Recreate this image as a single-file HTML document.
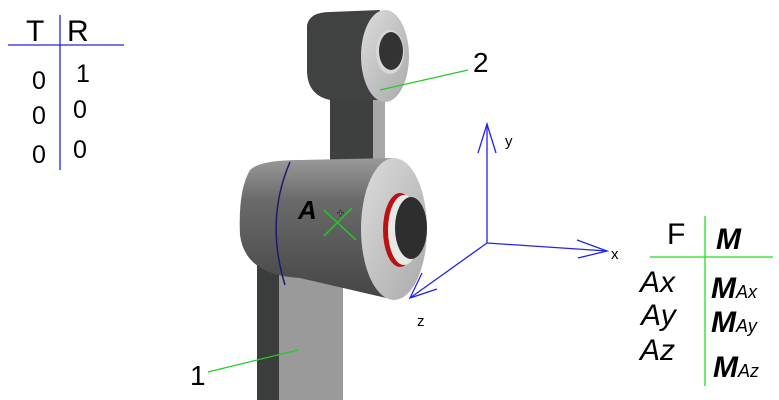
<!DOCTYPE html><html><head><style>body{margin:0;background:#fff}svg{display:block}text{font-family:"Liberation Sans",sans-serif}</style></head><body>
<svg width="779" height="400" viewBox="0 0 779 400" xmlns="http://www.w3.org/2000/svg">
<defs>
<linearGradient id="cyl" x1="0" y1="0" x2="0" y2="1"><stop offset="0" stop-color="#9a9a9a"/><stop offset="0.3" stop-color="#6a6a6a"/><stop offset="1" stop-color="#444"/></linearGradient>
<linearGradient id="face" x1="0" y1="0" x2="1" y2="1"><stop offset="0" stop-color="#dcdcdc"/><stop offset="1" stop-color="#aaa"/></linearGradient>
</defs>
<rect x="257" y="255" width="22" height="145" fill="#3b3d3c"/>
<rect x="279" y="255" width="64" height="145" fill="#9a9a9a"/>
<rect x="330" y="80" width="45" height="85" fill="#3e403f"/>
<rect x="373" y="95" width="12" height="70" fill="#a8a8a8"/>
<path d="M307 25 Q310 12 330 12 L380 10 L380 100 L330 100 Q307 95 307 70 Z" fill="#404241"/>
<ellipse cx="385" cy="56" rx="24" ry="46" fill="url(#face)"/>
<ellipse cx="390" cy="52" rx="14" ry="22" fill="#d8d8d8"/>
<ellipse cx="391" cy="51" rx="12" ry="19" fill="#333"/>
<path d="M250 170 Q260 160 300 160 L395 158 L395 300 L300 278 Q245 275 240 235 Q238 190 250 170 Z" fill="url(#cyl)"/>
<path d="M290 162 Q265 220 285 285" stroke="#1a1a70" stroke-width="1.5" fill="none"/>
<ellipse cx="394" cy="229" rx="33" ry="71" fill="url(#face)"/>
<ellipse cx="400" cy="230" rx="17" ry="37" fill="#bb1111"/>
<ellipse cx="404" cy="230" rx="16" ry="35" fill="#e8e8e8"/>
<ellipse cx="411" cy="228" rx="16" ry="31" fill="#2e2e2e"/>
<line x1="324" y1="210" x2="356" y2="240" stroke="#22cc22" stroke-width="1.5"/>
<line x1="352" y1="208" x2="324" y2="236" stroke="#22cc22" stroke-width="1.5"/>
<text x="337" y="217" font-size="12" fill="#fff" stroke="#000" stroke-width="0.5">+</text>
<line x1="380" y1="90" x2="468" y2="70" stroke="#22cc22" stroke-width="1.2"/>
<line x1="208" y1="372" x2="298" y2="350" stroke="#22cc22" stroke-width="1.2"/>
<text x="298" y="219" font-size="26" font-style="italic" font-weight="bold">A</text>
<text x="473" y="72" font-size="28">2</text>
<text x="190" y="385" font-size="28">1</text>
<g stroke="#2222ee" stroke-width="1.3" fill="none">
<line x1="487" y1="243" x2="487" y2="124"/><polyline points="478,153 487,124 496,153"/>
<line x1="487" y1="243" x2="607" y2="251"/><polyline points="577,240 607,251 578,258"/>
<line x1="487" y1="243" x2="410" y2="298"/><polyline points="422,273 410,298 437,289"/>
</g>
<text x="505" y="146" font-size="15">y</text>
<text x="611" y="259" font-size="15">x</text>
<text x="417" y="326" font-size="15">z</text>
<line x1="60" y1="15" x2="60" y2="170" stroke="#2222ee" stroke-width="1.3"/>
<line x1="8" y1="45" x2="124" y2="45" stroke="#2222ee" stroke-width="1.3"/>
<g font-size="30" font-weight="bold"><text x="26" y="41" font-weight="normal">T</text><text x="67" y="41" font-weight="normal">R</text></g>
<g font-size="25"><text x="32" y="89">0</text><text x="76" y="82">1</text>
<text x="32" y="124">0</text><text x="73" y="118">0</text>
<text x="32" y="163">0</text><text x="73" y="158">0</text></g>
<line x1="705" y1="216" x2="705" y2="386" stroke="#22dd22" stroke-width="1.3"/>
<line x1="650" y1="257" x2="773" y2="257" stroke="#22dd22" stroke-width="1.3"/>
<g font-size="30"><text x="667" y="244">F</text><text x="716" y="249" font-style="italic" font-weight="bold">M</text>
<text x="640" y="292" font-style="italic">Ax</text><text x="641" y="325" font-style="italic">Ay</text><text x="640" y="360" font-style="italic">Az</text>
<text x="711" y="298" font-style="italic" font-weight="bold">M<tspan font-size="18" font-weight="normal">Ax</tspan></text>
<text x="711" y="332" font-style="italic" font-weight="bold">M<tspan font-size="18" font-weight="normal">Ay</tspan></text>
<text x="713" y="377" font-style="italic" font-weight="bold">M<tspan font-size="18" font-weight="normal">Az</tspan></text></g>
</svg></body></html>
